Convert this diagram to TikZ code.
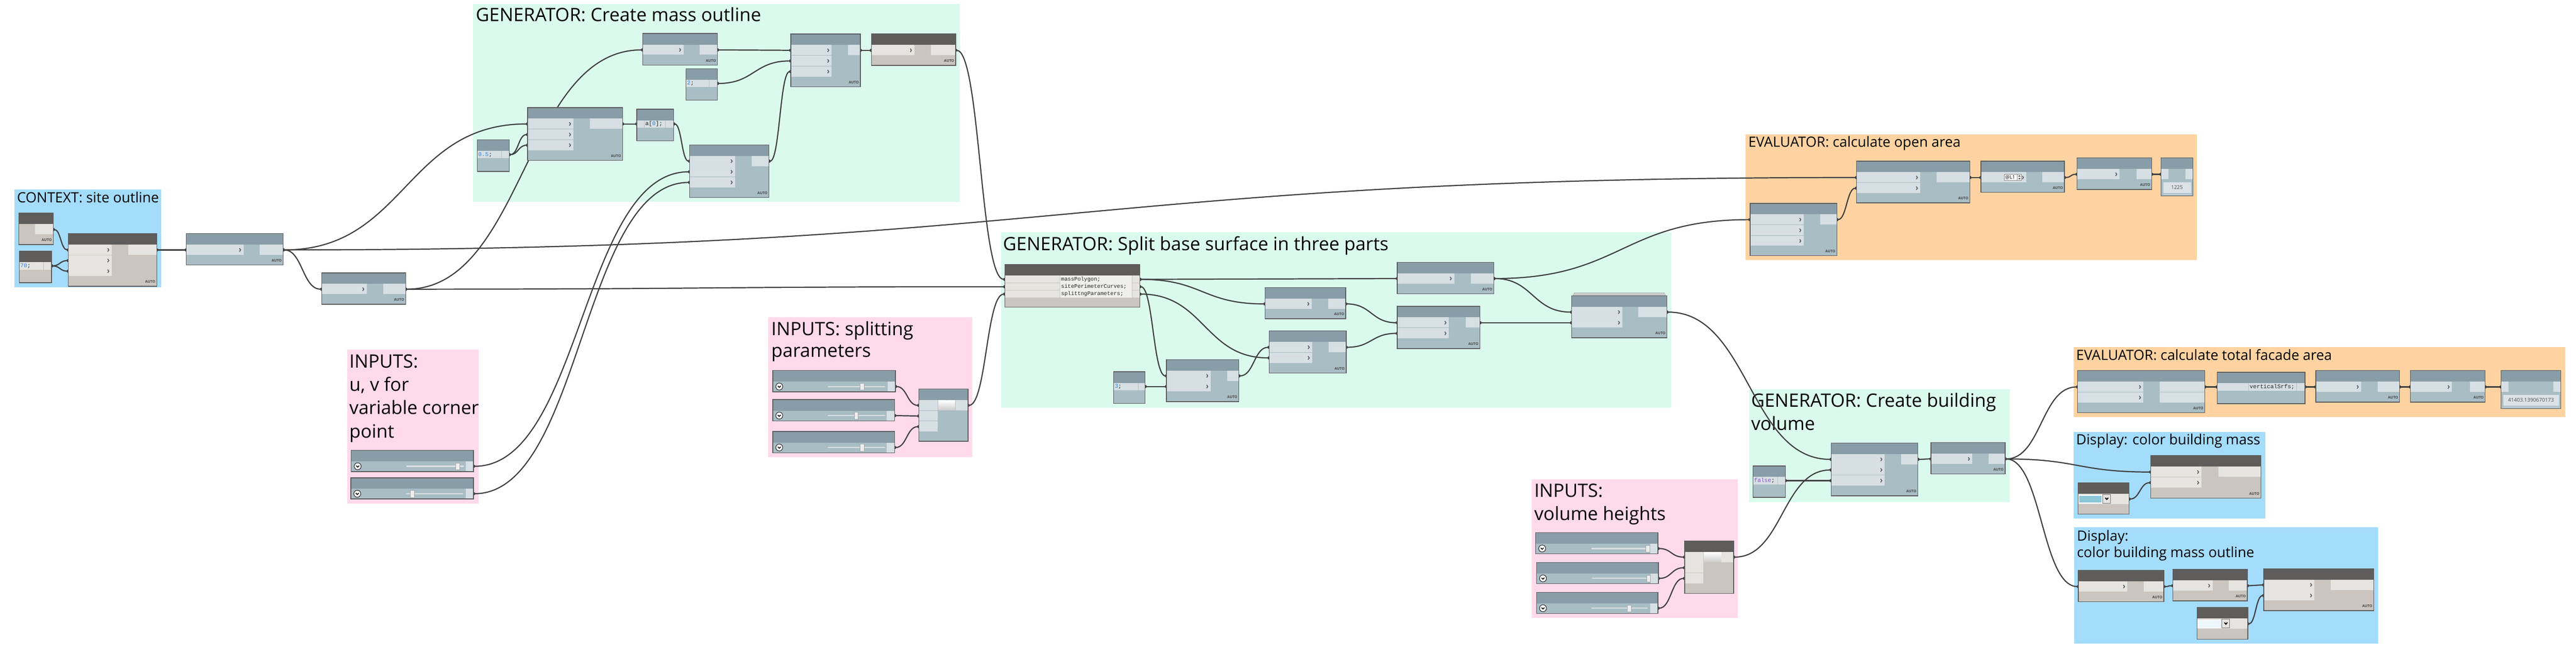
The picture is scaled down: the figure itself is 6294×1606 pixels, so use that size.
\documentclass[tikz,border=0pt]{standalone}
\usepackage{fontspec}
\setmainfont{Open Sans}
\newfontfamily\codefont{Liberation Mono}
\usepackage{xcolor}
\usepackage{tikz}
\usetikzlibrary{fit}
\usetikzlibrary{calc}
\usetikzlibrary{arrows.meta}
\definecolor{grpBlue}{HTML}{A4DCFC}
\definecolor{grpMint}{HTML}{DBFAEE}
\definecolor{grpPink}{HTML}{FFDAEB}
\definecolor{grpPeach}{HTML}{FED3A1}
\definecolor{gHead}{HTML}{889DA7}
\definecolor{gBody}{HTML}{A9BDC5}
\definecolor{gPort}{HTML}{D6DFE4}
\definecolor{dHead}{HTML}{5E5D5B}
\definecolor{dBody}{HTML}{CAC5BF}
\definecolor{dPort}{HTML}{E5E4E1}
\definecolor{edgeC}{HTML}{5C5C5C}
\definecolor{wireC}{HTML}{3E3E3E}
\definecolor{trackC}{HTML}{DCE1E3}
\definecolor{thumbC}{HTML}{EDEDED}
\definecolor{codeBlue}{HTML}{2D83D6}
\definecolor{codePurple}{HTML}{8B53C8}
\definecolor{watchC}{HTML}{DCE3E7}
\definecolor{swatchBlue}{HTML}{8CC6D7}
\definecolor{swatchWhite}{HTML}{EEF6FF}

\pgfdeclarelayer{groups}
\pgfdeclarelayer{wires}
\pgfsetlayers{groups,wires,main}

\tikzset{
  px/.style={x=0.1mm, y=-0.1mm},
  nodeBorder/.style={draw=edgeC, line width=0.18mm},
  chev/.style={draw=black!65, line width=0.2mm},
  codeSep/.style={draw=black!25, line width=0.1mm},
  wire/.style={draw=wireC, line width=0.28mm,
    {Circle[length=0.8mm]}-{Circle[length=0.8mm]},
    shorten <=-0.4mm, shorten >=-0.4mm,
    to path={let \p1=(\tikztostart), \p2=(\tikztotarget),
      \n1={max(abs(\x2-\x1)/2,5)} in
      .. controls +(\n1,0pt) and +(-\n1,0pt) .. (\tikztotarget)}},
  grpbox/.style={fill=#1, inner sep=0pt, outer sep=0pt},
  bigtitle/.style={font=\fontsize{12.8pt}{15pt}\selectfont, inner sep=0pt, anchor=base west},
  smalltitle/.style={font=\fontsize{9.8pt}{12pt}\selectfont, inner sep=0pt, anchor=base west},
  autotag/.style={font=\fontsize{2.5pt}{3pt}\selectfont\bfseries, text=black!72, inner sep=0pt},
  codetext/.style={font=\codefont\fontsize{4pt}{5pt}\selectfont, text=black!85, inner sep=0pt, anchor=west},
  watchtext/.style={font=\fontsize{3.6pt}{4.5pt}\selectfont, text=black!70, inner sep=0pt},
  track/.style={draw=trackC, line width=0.3mm},
  thumb/.style={draw=black!35, fill=thumbC, line width=0.1mm},
  knob/.style={draw=black!80, fill=white, line width=0.15mm},
}

% node: name, left, top, right, bottom, inputs, input edge, output edge, theme (g or d)
\newcommand{\dynnode}[9]{%
  \node[fill=#9Body, inner sep=0pt, outer sep=0pt, fit={(#2,#3) (#4,#5)}] (#1) {};
  \fill[#9Head] (#2,#3) rectangle (#4,#3+27);
  \ifnum#6>0
  \foreach \i in {1,...,#6}{
    \pgfmathsetmacro\rowy{#3+40+26*(\i-1)}
    \fill[#9Port] (#2,\rowy-13) rectangle (#7,\rowy+12);
    \draw[chev] (#7-10,\rowy-4) -- (#7-7,\rowy) -- (#7-10,\rowy+4);
    \coordinate (#1-i\i) at (#2,\rowy);
  }
  \fi
  \fill[#9Port] (#8,#3+27) rectangle (#4,#3+52);
  \coordinate (#1-o) at (#4,#3+40);
  \draw[nodeBorder] (#2,#3) rectangle (#4,#5);
  \node[autotag] at (#4-16,#5-11) {AUTO};
}

% code block: name, left, top, right, bottom, code start, code end, code, theme
\newcommand{\dyncode}[9]{%
  \node[fill=#9Body, inner sep=0pt, outer sep=0pt, fit={(#2,#3) (#4,#5)}] (#1) {};
  \fill[#9Head] (#2,#3) rectangle (#4,#3+27);
  \fill[#9Port] (#2,#3+27) rectangle (#4,#3+45);
  \draw[codeSep] (#6,#3+27) -- (#6,#3+45) (#7,#3+27) -- (#7,#3+45);
  \node[codetext] (#1-txt) at (#6+2,#3+36) {#8};
  \coordinate (#1-i1) at (#2,#3+36);
  \coordinate (#1-o) at (#4,#3+36);
  \draw[nodeBorder] (#2,#3) rectangle (#4,#5);
}

% slider: name, left, top, right, track start, track end, thumb
\newcommand{\dynslider}[7]{%
  \node[fill=gBody, inner sep=0pt, outer sep=0pt, fit={(#2,#3) (#4,#3+52)}] (#1) {};
  \fill[gHead] (#2,#3) rectangle (#4,#3+27);
  \fill[gPort] (#4-19,#3+27) rectangle (#4,#3+52);
  \draw[track] (#5,#3+39) -- (#6,#3+39);
  \draw[thumb] (#7-5,#3+31) rectangle (#7+5,#3+48);
  \draw[knob] (#2+16,#3+39) circle (0.85mm);
  \draw[line width=0.2mm] (#2+12.5,#3+37.5) -- (#2+16,#3+41) -- (#2+19.5,#3+37.5);
  \coordinate (#1-o) at (#4,#3+39);
  \draw[nodeBorder] (#2,#3) rectangle (#4,#3+52);
}

% list create: name, left, top, right, bottom, theme
\newcommand{\dynlist}[6]{%
  \node[fill=#6Body, inner sep=0pt, outer sep=0pt, fit={(#2,#3) (#4,#5)}] (#1) {};
  \fill[#6Head] (#2,#3) rectangle (#4,#3+27);
  \foreach \i in {1,2,3}{
    \pgfmathsetmacro\rowy{#3+40+26*(\i-1)}
    \fill[#6Port] (#2,\rowy-13) rectangle (#2+46,\rowy+12);
    \coordinate (#1-i\i) at (#2,\rowy);
  }
  \shade[top color=white, bottom color=black!20] (#2+47,#3+28) rectangle (#2+68,#3+52);
  \shade[top color=white, bottom color=black!20] (#2+69,#3+28) rectangle (#2+89,#3+52);
  \fill[#6Port] (#4-30,#3+27) rectangle (#4,#3+52);
  \coordinate (#1-o) at (#4,#3+40);
  \draw[nodeBorder] (#2,#3) rectangle (#4,#5);
}

% watch: name, left, top, right, bottom, value
\newcommand{\dynwatch}[6]{%
  \node[fill=gBody, inner sep=0pt, outer sep=0pt, fit={(#2,#3) (#4,#5)}] (#1) {};
  \fill[gHead] (#2,#3) rectangle (#4,#3+27);
  \fill[gPort] (#2,#3+27) rectangle (#2+18,#3+52);
  \fill[gPort] (#4-18,#3+27) rectangle (#4,#3+52);
  \fill[watchC] (#2+6,#3+59) rectangle (#4-5,#3+86);
  \fill[watchC] (#2+6,#3+88) rectangle (#4-5,#3+90);
  \node[watchtext] (#1-val) at ({(#2+#4)/2},#3+72.5) {#6};
  \coordinate (#1-i1) at (#2,#3+40);
  \coordinate (#1-o) at (#4,#3+40);
  \draw[nodeBorder] (#2,#3) rectangle (#4,#5);
}

% colour picker: name, left, top, right, bottom, swatch
\newcommand{\dyncolor}[6]{%
  \node[fill=dBody, inner sep=0pt, outer sep=0pt, fit={(#2,#3) (#4,#5)}] (#1) {};
  \fill[dHead] (#2,#3) rectangle (#4,#3+27);
  \fill[dPort] (#2,#3+27) rectangle (#4,#3+52);
  \fill[white] (#2+1,#3+30) rectangle (#2+60,#3+51);
  \fill[#6] (#2+3,#3+32) rectangle (#2+58,#3+49);
  \draw[draw=black!55, fill=dPort, line width=0.12mm] (#2+61,#3+29) rectangle (#2+80,#3+50);
  \draw[line width=0.25mm] (#2+67,#3+37) -- (#2+70.5,#3+41) -- (#2+74,#3+37);
  \coordinate (#1-o) at (#4,#3+40);
  \draw[nodeBorder] (#2,#3) rectangle (#4,#5);
}

\begin{document}
\begin{tikzpicture}[px]
    \useasboundingbox (0,0) rectangle (6294,1606);

    % draw groups
    \begin{pgfonlayer}{groups}
    \fill[white] (0,0) rectangle (6294,1606);
    \node[grpbox=grpBlue, fit={(35,463) (394,702)}] (siteGroup) {};
    \node[smalltitle] (siteTitle) at (41,495) {CONTEXT: site outline};

    \node[grpbox=grpMint, fit={(1156,10) (2345,494)}] (massGroup) {};
    \node[bigtitle] (massTitle) at (1162,52) {GENERATOR: Create mass outline};

    \node[grpbox=grpPink, fit={(849,855) (1169,1231)}] (uvGroup) {};
    \node[bigtitle] (uvTitleA) at (853,899) {INPUTS:};
    \node[bigtitle] (uvTitleB) at (853,956) {u, v for};
    \node[bigtitle] (uvTitleC) at (853,1013) {variable corner};
    \node[bigtitle] (uvTitleD) at (853,1070) {point};

    \node[grpbox=grpPink, fit={(1877,776) (2375,1118)}] (parGroup) {};
    \node[bigtitle] (parTitleA) at (1884,820) {INPUTS: splitting};
    \node[bigtitle] (parTitleB) at (1884,873) {parameters};

    \node[grpbox=grpMint, fit={(2446,568) (4083,997)}] (splitGroup) {};
    \node[bigtitle] (splitTitle) at (2450,612) {GENERATOR: Split base surface in three parts};

    \node[grpbox=grpPeach, fit={(4265,328) (5368,636)}] (openGroup) {};
    \node[smalltitle] (openTitle) at (4271,360) {EVALUATOR: calculate open area};

    \node[grpbox=grpPink, fit={(3742,1172) (4246,1511)}] (heightGroup) {};
    \node[bigtitle] (heightTitleA) at (3748,1215) {INPUTS:};
    \node[bigtitle] (heightTitleB) at (3748,1272) {volume heights};

    \node[grpbox=grpMint, fit={(4273,952) (4910,1227)}] (volGroup) {};
    \node[bigtitle] (volTitleA) at (4278,995) {GENERATOR: Create building};
    \node[bigtitle] (volTitleB) at (4278,1052) {volume};

    \node[grpbox=grpPeach, fit={(5066,848) (6268,1020)}] (facGroup) {};
    \node[smalltitle] (facTitle) at (5072,880) {EVALUATOR: calculate total facade area};

    \node[grpbox=grpBlue, fit={(5067,1056) (5535,1268)}] (dispGroup) {};
    \node[smalltitle] (dispTitle) at (5072,1087) {Display: color building mass};

    \node[grpbox=grpBlue, fit={(5068,1289) (5810,1574)}] (outlineGroup) {};
    \node[smalltitle] (outlineTitleA) at (5074,1322) {Display:};
    \node[smalltitle] (outlineTitleB) at (5074,1363) {color building mass outline};
    \end{pgfonlayer}

    % context
    \dynnode{siteFile}{46}{521}{130}{598}{0}{46}{85}{d}
    \dyncode{siteNum}{47}{614}{126}{691}{47}{106}{\textcolor{codeBlue}{70};}{d}
    \dynnode{sitePoly}{167}{571}{383}{700}{3}{273}{313}{d}
    \dynnode{siteCrv}{455}{571}{692}{648}{1}{595}{635}{g}
    \dynnode{siteSrf}{786}{667}{991}{744}{1}{896}{936}{g}

    % mass outline
    \dynnode{massPt}{1289}{263}{1521}{392}{3}{1401}{1441}{g}
    \dyncode{massHalf}{1166}{342}{1244}{419}{1166}{1225}{\textcolor{codeBlue}{0.5};}{g}
    \dynnode{massCrv}{1570}{82}{1753}{159}{1}{1670}{1710}{g}
    \dyncode{massTwo}{1676}{168}{1753}{245}{1676}{1733}{\textcolor{codeBlue}{2};}{g}
    \dynnode{massPts}{1932}{83}{2102}{212}{3}{2032}{2072}{g}
    \dynnode{massPoly}{2129}{83}{2335}{160}{1}{2234}{2274}{d}
    \dyncode{massPick}{1556}{267}{1646}{344}{1574}{1625}{a[\textcolor{codeBlue}{0}];}{g}
    \dynnode{massUV}{1685}{354}{1879}{483}{3}{1796}{1836}{g}

    % u, v sliders
    \dynslider{uSlider}{858}{1101}{1157}{993}{1133}{1118}
    \dynslider{vSlider}{857}{1168}{1157}{992}{1132}{1007}

    % splitting sliders
    \dynslider{split1}{1888}{906}{2188}{2023}{2163}{2107}
    \dynslider{split2}{1888}{977}{2186}{2023}{2163}{2092}
    \dynslider{split3}{1888}{1055}{2186}{2023}{2163}{2106}
    \dynlist{splitList}{2245}{951}{2365}{1079}{g}

    % split base surface
    \node[fill=dBody, inner sep=0pt, outer sep=0pt, fit={(2455,647) (2785,751)}] (splitCode) {};
    \fill[dHead] (2455,647) rectangle (2785,674);
    \foreach \r/\txt in {1/massPolygon;, 2/sitePerimeterCurves;, 3/splittngParameters;}{
        \pgfmathsetmacro\rowy{683+18*(\r-1)}
        \fill[dPort] (2455,\rowy-9) rectangle (2589,\rowy+8);
        \fill[dPort!60!white] (2590,\rowy-9) rectangle (2765,\rowy+9);
        \fill[dPort] (2767,\rowy-9) rectangle (2785,\rowy+8);
        \node[codetext, font=\codefont\fontsize{3.8pt}{4.5pt}\selectfont] (splitCodeT\r) at (2592,\rowy) {\txt};
        \coordinate (splitCode-i\r) at (2455,\rowy);
        \coordinate (splitCode-o\r) at (2785,\rowy);
    }
    \draw[nodeBorder] (2455,647) rectangle (2785,751);

    \dynnode{splitSrf}{3414}{641}{3650}{718}{1}{3553}{3594}{g}
    \dynnode{splitA}{3091}{703}{3288}{779}{1}{3205}{3245}{g}
    \dynnode{splitB}{3414}{749}{3616}{852}{2}{3540}{3581}{g}
    \dynnode{splitC}{3101}{809}{3289}{912}{2}{3206}{3246}{g}
    \dynnode{splitD}{2850}{879}{3027}{982}{2}{2958}{2998}{g}
    \dyncode{splitNum}{2721}{909}{2798}{986}{2721}{2781}{\textcolor{codeBlue}{3};}{g}
    \draw[draw=black!30, fill=black!6, line width=0.08mm] (3846,715) rectangle (4066,718);
    \draw[draw=black!30, fill=black!6, line width=0.08mm] (3843,719) rectangle (4069,722);
    \dynnode{splitE}{3840}{723}{4073}{826}{2}{3964}{4003}{g}

    % open area
    \dynnode{openDiff}{4536}{394}{4813}{496}{2}{4692}{4732}{g}
    \dynnode{openSrf}{4276}{497}{4488}{625}{3}{4407}{4447}{g}
    \dynnode{openArea}{4840}{394}{5044}{470}{1}{4951}{4990}{g}
    \draw[draw=black!45, fill=white, line width=0.1mm] (4897,426) rectangle (4939,441);
    \draw[black!45, line width=0.1mm] (4929,426) -- (4929,441);
    \node[font=\fontsize{3.4pt}{4pt}\selectfont, inner sep=0pt, anchor=west] (openLevel) at (4899,433.5) {@L1};
    \fill[black!70] (4934,428) -- (4937,432) -- (4931,432) -- cycle;
    \fill[black!70] (4934,439) -- (4937,435) -- (4931,435) -- cycle;
    \dynnode{openSum}{5075}{386}{5257}{463}{1}{5179}{5220}{g}
    \dynwatch{openWatch}{5280}{386}{5358}{479}{1225}

    % volume heights
    \dynslider{height1}{3752}{1302}{4051}{3888}{4025}{4026}
    \dynslider{height2}{3754}{1375}{4052}{3890}{4026}{4028}
    \dynslider{height3}{3754}{1448}{4051}{3888}{4025}{3981}
    \dynlist{heightList}{4116}{1322}{4236}{1451}{d}

    % building volume
    \dynnode{volExtrude}{4474}{1083}{4686}{1212}{3}{4605}{4645}{g}
    \dynnode{volSolid}{4718}{1082}{4899}{1159}{1}{4819}{4859}{g}
    \dyncode{volFlag}{4283}{1139}{4362}{1216}{4283}{4343}{\textcolor{codePurple}{false};}{g}

    % facade area
    \dynnode{facSplit}{5076}{906}{5387}{1009}{2}{5237}{5277}{g}
    \fill[gPort] (5277,959) rectangle (5386,984);
    \dyncode{facCode}{5417}{910}{5632}{987}{5494}{5611}{verticalSrfs;}{g}
    \dynnode{facArea}{5658}{906}{5863}{983}{1}{5769}{5809}{g}
    \dynnode{facSum}{5889}{906}{6072}{983}{1}{5991}{6035}{g}
    \dynwatch{facWatch}{6111}{906}{6257}{999}{41403.1390670173}

    % display nodes
    \dynnode{massDisp}{5255}{1114}{5524}{1218}{2}{5379}{5420}{d}
    \dyncolor{massColor}{5077}{1180}{5202}{1257}{swatchBlue}
    \dynnode{outlineA}{5078}{1394}{5287}{1471}{1}{5198}{5238}{d}
    \dynnode{outlineB}{5309}{1392}{5491}{1469}{1}{5406}{5445}{d}
    \dynnode{outlineDisp}{5531}{1390}{5800}{1493}{2}{5655}{5695}{d}
    \dyncolor{outlineColor}{5368}{1485}{5492}{1563}{swatchWhite}

    % draw wires
    \begin{pgfonlayer}{wires}
    \draw[wire] (siteFile-o) to (sitePoly-i1);
    \draw[wire] (siteNum-o) to (sitePoly-i2);
    \draw[wire] (siteNum-o) to (sitePoly-i3);
    \draw[wire] (sitePoly-o) to (siteCrv-i1);
    \draw[wire] (siteCrv-o) to (siteSrf-i1);
    \draw[wire] (siteCrv-o) to (massPt-i1);
    \draw[wire] (siteCrv-o) to (openDiff-i1);
    \draw[wire] (siteSrf-o) to (massCrv-i1);
    \draw[wire] (siteSrf-o) to (splitCode-i2);

    \draw[wire] (massHalf-o) to (massPt-i2);
    \draw[wire] (massHalf-o) to (massPt-i3);
    \draw[wire] (massPt-o) to (massPick-i1);
    \draw[wire] (massPick-o) to (massUV-i1);
    \draw[wire] (uSlider-o) to (massUV-i2);
    \draw[wire] (vSlider-o) to (massUV-i3);
    \draw[wire] (massCrv-o) to (massPts-i1);
    \draw[wire] (massTwo-o) to (massPts-i2);
    \draw[wire] (massUV-o) to (massPts-i3);
    \draw[wire] (massPts-o) to (massPoly-i1);
    \draw[wire] (massPoly-o) to (splitCode-i1);

    \foreach \k in {1,2,3}
        \draw[wire] (split\k-o) to (splitList-i\k);
    \draw[wire] (splitList-o) to (splitCode-i3);

    \draw[wire] (splitCode-o1) to (splitSrf-i1);
    \draw[wire] (splitCode-o1) to (splitA-i1);
    \draw[wire] (splitCode-o2) to (splitD-i1);
    \draw[wire] (splitCode-o3) to (splitC-i2);
    \draw[wire] (splitNum-o) to (splitD-i2);
    \draw[wire] (splitD-o) to (splitC-i1);
    \draw[wire] (splitA-o) to (splitB-i1);
    \draw[wire] (splitC-o) to (splitB-i2);
    \draw[wire] (splitSrf-o) to (splitE-i1);
    \draw[wire] (splitB-o) to (splitE-i2);
    \draw[wire] (splitSrf-o) to (openSrf-i1);

    \draw[wire] (openSrf-o) to (openDiff-i2);
    \draw[wire] (openDiff-o) to (openArea-i1);
    \draw[wire] (openArea-o) to (openSum-i1);
    \draw[wire] (openSum-o) to (openWatch-i1);

    \foreach \k in {1,2,3}
        \draw[wire] (height\k-o) to (heightList-i\k);
    \draw[wire] (splitE-o) to (volExtrude-i1);
    \draw[wire] (heightList-o) to (volExtrude-i2);
    \draw[wire] (volFlag-o) to (volExtrude-i3);
    \draw[wire] (volExtrude-o) to (volSolid-i1);

    \draw[wire] (volSolid-o) to (facSplit-i1);
    \draw[wire] (volSolid-o) to (massDisp-i1);
    \draw[wire] (volSolid-o) to (outlineA-i1);
    \draw[wire] (facSplit-o) to (facCode-i1);
    \draw[wire] (facCode-o) to (facArea-i1);
    \draw[wire] (facArea-o) to (facSum-i1);
    \draw[wire] (facSum-o) to (facWatch-i1);
    \draw[wire] (massColor-o) to (massDisp-i2);
    \draw[wire] (outlineA-o) to (outlineB-i1);
    \draw[wire] (outlineB-o) to (outlineDisp-i1);
    \draw[wire] (outlineColor-o) to (outlineDisp-i2);
    \end{pgfonlayer}
\end{tikzpicture}
\end{document}
